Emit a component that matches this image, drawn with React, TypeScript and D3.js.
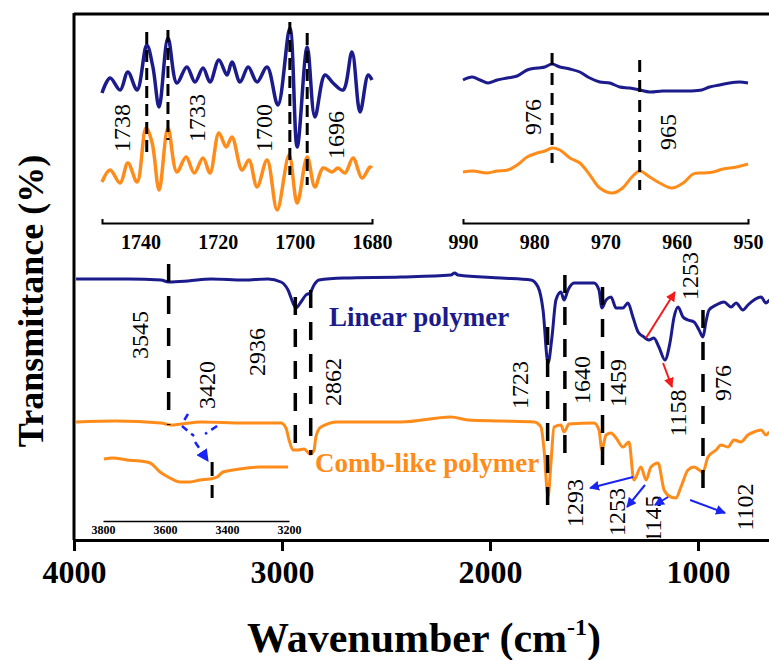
import React, { useEffect, useRef } from "react";
import * as d3 from "d3";

// ---------- data ----------
const linearWn = [3990,3740,3582,3545,3452,3341,3183,3067,3005,2971,2947,2933,2909,2885,2865,2846,2822,2702,2428,2188,2170,2154,1947,1803,1769,1745,1721,1702,1683,1659,1644,1625,1596,1500,1476,1462,1442,1418,1394,1361,1337,1313,1288,1260,1236,1212,1188,1159,1135,1115,1096,1072,1048,1019,995,976,962,947,913,875,841,817,784,760,731,697,673,654,620];
const linearT = [261,261,260,258,259,261,260,261,258,250,237,232,238,245,247,255,260,262,263,265,267,265,262,260,253,230,177,203,240,248,240,250,257,257,250,232,240,243,232,232,237,223,208,203,200,202,193,180,197,223,233,223,220,218,210,203,218,230,235,238,233,237,230,235,240,243,237,240,238];

const combWn = [3990,3800,3582,3534,3486,3389,3183,3005,2981,2966,2947,2923,2894,2865,2846,2837,2813,2731,2428,2188,2106,1947,1788,1755,1740,1721,1707,1692,1659,1644,1620,1500,1476,1462,1442,1418,1394,1361,1332,1308,1274,1250,1226,1192,1163,1130,1106,1082,1048,1019,976,952,913,889,856,827,793,760,731,697,673,654,620];
const combT = [118,119,117,115,116,118,117,117,112,100,90,90,91,86,90,103,113,118,118,123,120,119,118,113,90,43,77,113,115,108,116,117,110,90,105,107,102,93,98,60,73,60,73,77,50,43,42,53,70,73,68,83,90,95,93,100,98,105,108,110,105,108,106];

// inset 1750-1680
const coWnL = [1750,1747.9,1745.3,1743.3,1740.9,1738.4,1736.8,1735.2,1732.9,1730.6,1728.0,1725.9,1723.8,1722.0,1719.7,1717.6,1716.3,1714.2,1712.1,1709.8,1707.2,1704.4,1701.3,1699.4,1696.8,1694.8,1692.2,1690.1,1687.5,1685.2,1683.1,1681.0,1680];
const coL = [137,152,140,158,140,185,163,123,192,147,163,148,162,148,170,155,168,148,163,148,163,125,202,83,183,113,155,147,140,178,118,155,150];
const coWnC = [1750,1747.9,1745.3,1743.3,1740.9,1738.6,1737.0,1735.2,1732.9,1730.6,1728.2,1726.1,1723.8,1722.0,1719.7,1717.8,1716.3,1713.7,1711.9,1709.8,1707.2,1704.6,1701.5,1699.4,1696.8,1694.8,1692.7,1690.4,1688.8,1687.0,1684.9,1682.6,1680.5,1680];
const coC = [48,60,47,67,48,102,87,40,102,58,73,57,72,57,97,83,93,60,70,43,70,20,75,27,73,43,62,58,62,57,72,52,63,62];

// inset 990-950
const chWnL = [990,988.7,987.6,986.5,985.2,983.8,982.4,981.0,979.6,978.5,977.5,976.4,975.0,973.6,972.2,970.8,969.4,968.0,966.6,965.2,963.8,962.0,960.0,958.2,956.5,955.4,954.0,952.6,951.2,950];
const chL = [150,153,150,147,150,152,154,160,162,163,166,163,161,158,152,148,147,143,142,140,138,139,139,139,140,143,145,147,148,147];
const chWnC = [990,988.6,986.6,985.2,983.7,982.4,981.0,979.6,978.5,977.5,976.4,975.0,973.6,972.2,970.8,969.0,967.6,966.3,965.2,963.8,962.4,960.7,959.1,957.7,956.3,954.9,953.5,951.6,950];
const chC = [58,59,57,59,60,65,73,77,79,82,80,72,67,55,42,37,42,53,59,53,47,42,47,56,57,58,61,63,66];

// inset 3800-3200 (comb-like)
const ohWn = [3797,3768,3723,3681,3648,3616,3584,3552,3519,3487,3455,3432,3413,3381,3335,3294,3252,3203];
const ohT = [81,82,80,79,77,68,62,58,58,60,61,63,68,70,72,73,73,73];

// tick values
const mainTicks = [4000, 3000, 2000, 1000];
const coTicks = [1740, 1720, 1700, 1680];
const chTicks = [990, 980, 970, 960, 950];
const ohTicks = [3800, 3600, 3400, 3200];

// dashed peak markers (main): wavenumber, top, bottom
const mainMarkWn = [3545, 2936, 2862, 1723, 1640, 1459, 976];
const mainMarkTop = [276, 243, 250, 213, 265, 253, 230];
const mainMarkBot = [115, 90, 85, 27, 80, 67, 47];

const coMarkWn = [1738.4, 1732.9, 1701.3, 1696.8];
const coMarkTop = [198, 200, 208, 197];
const coMarkBot = [72, 90, 55, 45];
const coLabels = ["1738", "1733", "1700", "1696"];
const coLabelWn = [1744.8, 1725.4, 1708.0, 1689.3];
const coLabelV = [102, 112, 102, 95];

const chMarkWn = [977.5, 965.2];
const chMarkTop = [177, 170];
const chMarkBot = [67, 40];
const chLabels = ["976", "965"];
const chLabelWn = [980.2, 961.2];
const chLabelV = [113, 98];

const ohMarkWn = [3448];
const ohMarkTop = [78];
const ohMarkBot = [42];

// rotated peak labels on main plot
const mainLabels = ["3545","3420","2936","2862","1723","1640","1459","1158","1253","976","1293","1253","1145","1102"];
const mainLabelWn = [3683,3361,3120,2755,1856,1558,1385,1096,1038,880,1591,1389,1216,774];
const mainLabelV = [205,155,188,158,155,160,157,127,264,157,37,28,21,33];

// arrows [wn1, v1, wn2, v2]
const redArrows = [[1250, 202, 1111, 248], [1168, 177, 1125, 153]];
const blueArrows = [[1312, 63, 1519, 52], [1255, 55, 1341, 33], [1144, 43, 1207, 35], [1038, 40, 870, 27]];
const blueDashSegs = [[3452, 126, 3481, 116], [3481, 114, 3423, 104], [3312, 114, 3370, 106]];
const blueDashArrows = [[3418, 98, 3356, 79]];

const seriesNames = ["Linear polymer", "Comb-like polymer"];
const seriesNameWn = [2774, 2841];
const seriesNameV = [214, 68];

const NAVY = "#1b1b8c";
const ORANGE = "#ff8c1a";
const FONT = "'Liberation Serif', 'Times New Roman', serif";

// ---------- scales ----------
const x = d3.scaleLinear().domain([4000, 400]).range([74, 74 + 3600 * 0.208]);
const y = d3.scaleLinear().domain([0, 300]).range([540, 240]);
const xCo = d3.scaleLinear().domain([1750, 1680]).range([102, 372]);
const xCh = d3.scaleLinear().domain([990, 950]).range([463, 748]);
const yIn = d3.scaleLinear().domain([0, 200]).range([230, 30]);
const xOh = d3.scaleLinear().domain([3800, 3200]).range([103, 289]);

function linePath(xs: number[], ys: number[], sx: any, sy: any, curve: any) {
  const pts = xs.map((w, i) => [w, ys[i]] as [number, number]);
  return d3.line<[number, number]>().x(d => sx(d[0])).y(d => sy(d[1])).curve(curve)(pts) || "";
}

function RotText({ x: px, y: py, text, size = 24 }: any) {
  return (
    <text transform={`translate(${px},${py}) rotate(-90)`} textAnchor="middle" dominantBaseline="central"
      fontFamily={FONT} fontSize={size} fill="#000">{text}</text>
  );
}

export default function App() {
  const mainAxis = useRef<SVGGElement>(null);
  const coAxis = useRef<SVGGElement>(null);
  const chAxis = useRef<SVGGElement>(null);
  const ohAxis = useRef<SVGGElement>(null);

  useEffect(() => {
    const style = (g: any, size: number, sw: number) => {
      g.selectAll("path.domain").attr("stroke", "#000").attr("stroke-width", sw);
      g.selectAll(".tick line").attr("stroke", "#000").attr("stroke-width", sw);
      g.selectAll("text").attr("font-family", FONT).attr("font-size", size).attr("font-weight", "bold").attr("fill", "#000");
      g.attr("font-family", null);
    };
    const gm = d3.select(mainAxis.current);
    gm.call(d3.axisBottom(x).tickValues(mainTicks).tickSize(11).tickSizeOuter(0).tickPadding(9).tickFormat(d3.format("d")) as any);
    style(gm, 32, 3);
    const gc = d3.select(coAxis.current);
    gc.call(d3.axisBottom(xCo).tickValues(coTicks).tickSize(0).tickSizeOuter(-4).tickPadding(12).tickFormat(d3.format("d")) as any);
    style(gc, 20, 2);
    const gh = d3.select(chAxis.current);
    gh.call(d3.axisBottom(xCh).tickValues(chTicks).tickSize(0).tickSizeOuter(-4).tickPadding(12).tickFormat(d3.format("d")) as any);
    style(gh, 20, 2);
    const go = d3.select(ohAxis.current);
    go.call(d3.axisBottom(xOh).tickValues(ohTicks).tickSize(0).tickSizeOuter(0).tickPadding(4).tickFormat(d3.format("d")) as any);
    style(go, 12, 1.5);
  }, []);

  const mono = d3.curveMonotoneX;
  const cat = d3.curveCatmullRom.alpha(0.5);

  return (
    <svg width={769} height={660} style={{ position: "absolute", left: 0, top: 0, background: "#fff" }}>
      <defs>
        <clipPath id="plotClip"><rect x={74} y={14} width={700} height={524} /></clipPath>
        <marker id="arrRed" viewBox="0 0 10 10" refX={9} refY={5} markerWidth={5} markerHeight={5} orient="auto">
          <path d="M0,0 L10,5 L0,10 z" fill="#f21b1b" />
        </marker>
        <marker id="arrBlue" viewBox="0 0 10 10" refX={9} refY={5} markerWidth={5} markerHeight={5} orient="auto">
          <path d="M0,0 L10,5 L0,10 z" fill="#1a24f2" />
        </marker>
      </defs>

      {/* frame */}
      <line x1={74} x2={769} y1={14} y2={14} stroke="#000" strokeWidth={3} />
      <line x1={74} x2={74} y1={13} y2={540} stroke="#000" strokeWidth={3} />

      <g clipPath="url(#plotClip)">
        {/* main spectra */}
        <path d={linePath(linearWn, linearT, x, y, mono)} fill="none" stroke={NAVY} strokeWidth={3} />
        <path d={linePath(combWn, combT, x, y, mono)} fill="none" stroke={ORANGE} strokeWidth={3} />

        {/* inset OH */}
        <path d={linePath(ohWn, ohT, xOh, y, mono)} fill="none" stroke={ORANGE} strokeWidth={3} />

        {/* main markers */}
        {mainMarkWn.map((w, i) => (
          <line key={"mm" + i} x1={x(w)} x2={x(w)} y1={y(mainMarkTop[i])} y2={y(mainMarkBot[i])}
            stroke="#000" strokeWidth={3.5} strokeDasharray="18,14" />
        ))}
        {ohMarkWn.map((w, i) => (
          <line key={"om" + i} x1={xOh(w)} x2={xOh(w)} y1={y(ohMarkTop[i])} y2={y(ohMarkBot[i])}
            stroke="#000" strokeWidth={3} strokeDasharray="14,9" />
        ))}

        {/* labels */}
        {mainLabels.map((t, i) => (
          <RotText key={"ml" + i} x={x(mainLabelWn[i])} y={y(mainLabelV[i])} text={t} />
        ))}

        {/* series names */}
        <text x={x(seriesNameWn[0])} y={y(seriesNameV[0])} fontFamily={FONT} fontWeight="bold" fontSize={27} fill={NAVY}>{seriesNames[0]}</text>
        <text x={x(seriesNameWn[1])} y={y(seriesNameV[1])} fontFamily={FONT} fontWeight="bold" fontSize={27} fill={ORANGE}>{seriesNames[1]}</text>

        {/* arrows */}
        {redArrows.map((a, i) => (
          <line key={"ra" + i} x1={x(a[0])} y1={y(a[1])} x2={x(a[2])} y2={y(a[3])} stroke="#f21b1b" strokeWidth={2} markerEnd="url(#arrRed)" />
        ))}
        {blueArrows.map((a, i) => (
          <line key={"ba" + i} x1={x(a[0])} y1={y(a[1])} x2={x(a[2])} y2={y(a[3])} stroke="#1a24f2" strokeWidth={2} markerEnd="url(#arrBlue)" />
        ))}
        {blueDashSegs.map((a, i) => (
          <line key={"bd" + i} x1={x(a[0])} y1={y(a[1])} x2={x(a[2])} y2={y(a[3])} stroke="#1a24f2" strokeWidth={2.5} strokeDasharray="7,5" />
        ))}
        {blueDashArrows.map((a, i) => (
          <line key={"bda" + i} x1={x(a[0])} y1={y(a[1])} x2={x(a[2])} y2={y(a[3])} stroke="#1a24f2" strokeWidth={2.5} strokeDasharray="7,5" markerEnd="url(#arrBlue)" />
        ))}
      </g>

      {/* inset 1750-1680 */}
      <path d={linePath(coWnL, coL, xCo, yIn, cat)} fill="none" stroke={NAVY} strokeWidth={3.5} />
      <path d={linePath(coWnC, coC, xCo, yIn, cat)} fill="none" stroke={ORANGE} strokeWidth={3.5} />
      {coMarkWn.map((w, i) => (
        <line key={"cm" + i} x1={xCo(w)} x2={xCo(w)} y1={yIn(coMarkTop[i])} y2={yIn(coMarkBot[i])}
          stroke="#000" strokeWidth={3} strokeDasharray="12,6" />
      ))}
      {coLabels.map((t, i) => (
        <RotText key={"cl" + i} x={xCo(coLabelWn[i])} y={yIn(coLabelV[i])} text={t} />
      ))}
      <g ref={coAxis} transform="translate(0,223)" />

      {/* inset 990-950 */}
      <path d={linePath(chWnL, chL, xCh, yIn, cat)} fill="none" stroke={NAVY} strokeWidth={3} />
      <path d={linePath(chWnC, chC, xCh, yIn, cat)} fill="none" stroke={ORANGE} strokeWidth={3} />
      {chMarkWn.map((w, i) => (
        <line key={"hm" + i} x1={xCh(w)} x2={xCh(w)} y1={yIn(chMarkTop[i])} y2={yIn(chMarkBot[i])}
          stroke="#000" strokeWidth={3} strokeDasharray="12,8" />
      ))}
      {chLabels.map((t, i) => (
        <RotText key={"hl" + i} x={xCh(chLabelWn[i])} y={yIn(chLabelV[i])} text={t} />
      ))}
      <g ref={chAxis} transform="translate(0,223)" />

      {/* inset OH axis */}
      <g ref={ohAxis} transform="translate(0,521)" />

      {/* main axis */}
      <g ref={mainAxis} transform="translate(0,540)" />

      {/* axis titles */}
      <text transform="translate(43,301) rotate(-90)" textAnchor="middle" fontFamily={FONT} fontWeight="bold" fontSize={36} fill="#000">
        Transmittance (%)
      </text>
      <text x={424} y={652} textAnchor="middle" fontFamily={FONT} fontWeight="bold" fontSize={42} fill="#000">
        Wavenumber (cm<tspan dy={-17} fontSize={24}>-1</tspan><tspan dy={17}>)</tspan>
      </text>
    </svg>
  );
}
